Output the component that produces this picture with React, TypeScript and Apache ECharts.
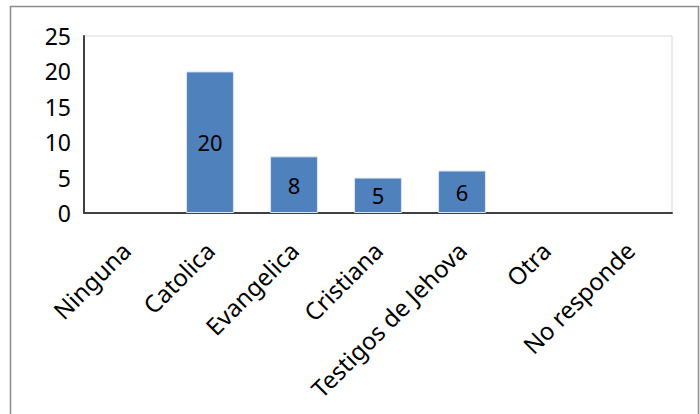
import React, { useEffect, useRef } from "react";
import * as echarts from "echarts";

const categories = ["Ninguna", "Catolica", "Evangelica", "Cristiana", "Testigos de Jehova", "Otra", "No responde"];
const values = [0, 20, 8, 5, 6, 0, 0];
const yTicks = { min: 0, max: 25, interval: 5 };

const FONT = "Noto Sans";

export default function App() {
  const ref = useRef<HTMLDivElement>(null);
  useEffect(() => {
    const chart = echarts.init(ref.current!, null, { renderer: "svg" });
    chart.setOption({
      animation: false,
      backgroundColor: "#ffffff",
      graphic: [
        {
          type: "rect",
          shape: { x: 10.5, y: 6.5, width: 688, height: 420 },
          style: { fill: "none", stroke: "#8c8c8c", lineWidth: 1.5 },
          silent: true,
        },
      ],
      grid: {
        left: 84,
        right: 28,
        top: 36,
        bottom: 201,
        containLabel: false,
        show: true,
        borderColor: "#d9d9d9",
        borderWidth: 1,
      },
      xAxis: {
        type: "category",
        data: categories,
        axisLine: { show: true, lineStyle: { color: "#404040", width: 2 } },
        axisTick: { show: false },
        axisLabel: {
          rotate: 45,
          interval: 0,
          margin: 33,
          color: "#000",
          fontFamily: FONT,
          fontSize: 24,
        },
      },
      yAxis: {
        type: "value",
        min: yTicks.min,
        max: yTicks.max,
        interval: yTicks.interval,
        splitLine: { show: false },
        axisLine: { show: true, lineStyle: { color: "#404040", width: 2 } },
        axisTick: { show: false },
        axisLabel: { color: "#000", fontFamily: FONT, fontSize: 23, margin: 13 },
      },
      series: [
        {
          type: "bar",
          data: values.map((v) => ({
            value: v,
            itemStyle: v === 0 ? { borderWidth: 0 } : {},
          })),
          barWidth: "57%",
          itemStyle: { color: "#4F81BD", borderColor: "#dbe5f1", borderWidth: 1 },
          label: {
            show: true,
            position: "inside",
            color: "#000",
            fontFamily: FONT,
            fontSize: 22,
            formatter: (p: any) => (p.value === 0 ? "" : String(p.value)),
          },
        },
      ],
    });
    return () => chart.dispose();
  }, []);
  return (
    <div
      ref={ref}
      style={{ position: "fixed", left: 0, top: 0, width: 700, height: 414, background: "#fff" }}
    />
  );
}
